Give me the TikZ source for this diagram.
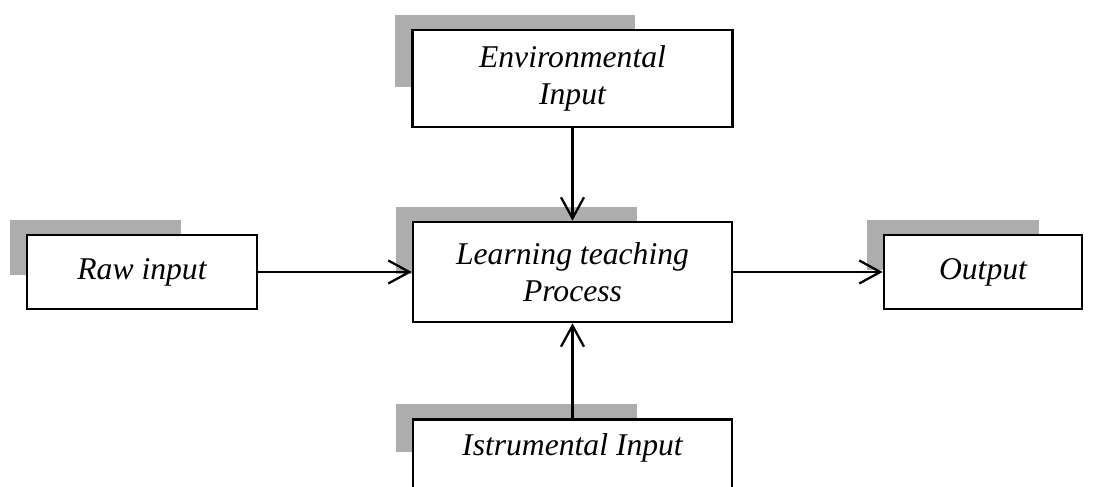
\documentclass[tikz,border=0pt]{standalone}
\usepackage{fontspec}
\setmainfont{Liberation Serif}
\usepackage{xcolor}
\usepackage{tikz}
\usetikzlibrary{arrows.meta}
\definecolor{colorShade}{HTML}{ADADAD}

% grey L-shaped shade at the top left corner of a box
\newcommand{\boxshade}[3]{%
    \fill[colorShade] ([shift={(-0.32,0.28)}]#1.north west) rectangle ([xshift=#2cm]#1.north west);
    \fill[colorShade] ([xshift=-0.32cm]#1.north west) rectangle ([yshift=-#3cm]#1.north west);
}

\begin{document}
\begin{tikzpicture}[
        stepbox/.style={draw, line width=1.5pt, fill=white, align=center,
            font=\fontsize{18}{21}\selectfont\itshape, inner sep=0pt},
        flow/.style={line width=1.2pt, -{Straight Barb[length=4.2mm,width=4.6mm,line width=1.3pt]}}
    ]
        \useasboundingbox (0,0) rectangle (22.02,9.72);

        \node (env) [stepbox, minimum width=6.4cm, minimum height=1.94cm] at (11.45,8.15) {Environmental\\Input};
        \node (learn) [stepbox, minimum width=6.38cm, minimum height=2cm] at (11.45,4.28) {Learning teaching\\Process};
        \node (raw) [stepbox, minimum width=4.6cm, minimum height=1.48cm] at (2.84,4.28) {Raw input};
        \node (out) [stepbox, minimum width=3.96cm, minimum height=1.48cm] at (19.66,4.28) {Output};
        \node (istr) [stepbox, anchor=north, minimum width=6.38cm, inner ysep=0.2cm,
            text height=0.52cm, text depth=1.8cm] at (11.45,1.36) {Istrumental Input};

        \boxshade{env}{4.48}{1.16}
        \boxshade{learn}{4.5}{1.06}
        \boxshade{raw}{3.1}{0.82}
        \boxshade{out}{3.12}{0.72}
        \boxshade{istr}{4.5}{0.68}

        \draw[flow] (env) -- (learn);
        \draw[flow] (raw) -- (learn);
        \draw[flow] (learn) -- (out);
        \draw[flow] (istr) -- (learn);
    \end{tikzpicture}
\end{document}
